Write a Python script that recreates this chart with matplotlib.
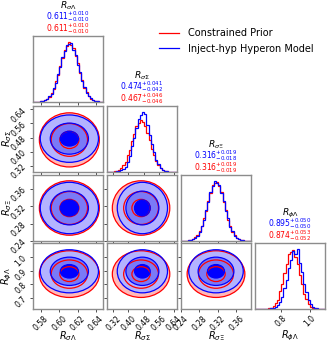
import numpy as np
import matplotlib
matplotlib.use("Agg")
import matplotlib.pyplot as plt
from matplotlib.patches import Ellipse
from matplotlib.lines import Line2D
from matplotlib.ticker import FormatStrFormatter

# ---------------- data ----------------
labels = [r"$R_{\sigma\Lambda}$", r"$R_{\sigma\Sigma}$", r"$R_{\sigma\Xi}$", r"$R_{\phi\Lambda}$"]
ranges = [(0.571, 0.648), (0.287, 0.657), (0.240, 0.392), (0.615, 1.105)]

# medians and 1-sigma (from titles)
blue_med = [0.611, 0.474, 0.316, 0.895]
blue_up = [0.010, 0.041, 0.019, 0.050]
blue_lo = [0.010, 0.042, 0.018, 0.050]
red_med = [0.611, 0.467, 0.316, 0.874]
red_up = [0.010, 0.046, 0.019, 0.053]
red_lo = [0.010, 0.046, 0.019, 0.052]

# contour sizes (in units of sigma)
blue_levels = [1.0, 2.1, 3.2]
red_levels = [1.05, 2.0, 3.3]

# histogram heights (32 bins across each panel range)
blue_hist = [
    [0,0,0,1,1,3,5,10,14,24,33,48,60,77,86,97,99,101,88,80,63,51,36,26,16,10,6,3,2,1,0,0],
    [0,0,0,0,1,1,3,5,9,17,27,44,57,74,88,95,100,97,79,62,46,34,20,13,6,4,2,1,0,0,0,0],
    [0,0,0,1,1,3,5,9,15,26,36,52,66,82,92,101,98,94,80,68,50,38,24,16,9,5,3,1,1,0,0,0],
    [0,0,0,0,0,0,0,1,1,3,6,12,20,35,50,70,84,99,94,102,78,63,43,29,15,9,4,2,1,0,0,0],
]
red_hist = [
    [0,0,0,1,2,3,5,9,15,22,35,46,62,74,89,95,102,97,91,78,66,49,38,24,17,11,5,3,1,1,0,0],
    [0,0,0,1,2,3,6,11,17,28,37,52,63,76,82,87,83,77,65,54,39,29,18,12,7,4,2,1,0,0,0,0],
    [0,0,0,1,2,3,6,10,16,25,38,50,68,80,94,97,100,92,82,66,52,36,26,15,10,5,3,2,1,0,0,0],
    [0,0,0,0,0,0,1,2,5,11,16,30,43,62,77,94,97,101,88,76,57,42,25,17,8,4,2,1,0,0,0,0],
]

x_ticks = [[0.58, 0.60, 0.62, 0.64], [0.32, 0.40, 0.48, 0.56, 0.64],
           [0.24, 0.28, 0.32, 0.36], [0.8, 1.0]]
y_ticks = [[0.58, 0.60, 0.62, 0.64], [0.32, 0.40, 0.48, 0.56, 0.64],
           [0.24, 0.28, 0.32, 0.36], [0.7, 0.8, 0.9, 1.0]]
tick_fmt = ["%.2f", "%.2f", "%.2f", "%.1f"]

legend_labels = ["Constrained Prior", "Inject-hyp Hyperon Model"]

# ---------------- style ----------------
BLUE = "#0000ff"
RED = "#ff0000"
blue_fills = ["#b3b3ff", "#7a7af7", BLUE]
red_fill = "#ffb8b8"
SPINE = "#8c8c8c"

W, H = 328, 353
fig = plt.figure(figsize=(W / 100, H / 100), dpi=100)

lefts = [33, 107, 181, 255]
tops = [36, 106, 175, 243]
aw, ah = 70, 66

n = 4
axes = {}
for r in range(n):
    for c in range(r + 1):
        ax = fig.add_axes([lefts[c] / W, 1 - (tops[r] + ah) / H, aw / W, ah / H])
        axes[(r, c)] = ax
        for s in ax.spines.values():
            s.set_color(SPINE)
            s.set_linewidth(1.0)
        ax.tick_params(colors="#333333", labelsize=5.5, length=2.5, width=0.6,
                       labelcolor="black", pad=1)

for i in range(n):
    ax = axes[(i, i)]
    lo, hi = ranges[i]
    edges = np.linspace(lo, hi, len(blue_hist[i]) + 1)
    rh = np.asarray(red_hist[i], float)
    bh = np.asarray(blue_hist[i], float)
    ax.stairs(rh, edges, color=RED, lw=0.9)
    ax.stairs(bh, edges, color=BLUE, lw=0.9)
    ax.set_xlim(lo, hi)
    ax.set_ylim(0, 1.1 * max(rh.max(), bh.max()))
    ax.set_yticks([])
    ax.set_xticks(x_ticks[i])
    ax.xaxis.set_major_formatter(FormatStrFormatter(tick_fmt[i]))
    if i < n - 1:
        ax.set_xticklabels([])
    # titles
    ax.text(0.5, 1 + 30 / ah, labels[i], transform=ax.transAxes, ha="center",
            va="center", fontsize=6.6)
    ax.text(0.5, 1 + 19.5 / ah,
            r"$%.3f^{+%.3f}_{-%.3f}$" % (blue_med[i], blue_up[i], blue_lo[i]),
            transform=ax.transAxes, ha="center", va="center", fontsize=5.5, color=BLUE)
    ax.text(0.5, 1 + 7.5 / ah,
            r"$%.3f^{+%.3f}_{-%.3f}$" % (red_med[i], red_up[i], red_lo[i]),
            transform=ax.transAxes, ha="center", va="center", fontsize=5.5, color=RED)


def sig(up, lo):
    return 0.5 * (up + lo)


for r in range(1, n):
    for c in range(r):
        ax = axes[(r, c)]
        bsx, bsy = sig(blue_up[c], blue_lo[c]), sig(blue_up[r], blue_lo[r])
        rsx, rsy = sig(red_up[c], red_lo[c]), sig(red_up[r], red_lo[r])
        # red outer fill
        k = red_levels[-1]
        ax.add_patch(Ellipse((red_med[c], red_med[r]), 2 * k * rsx, 2 * k * rsy,
                             facecolor=red_fill, edgecolor="none", zorder=1))
        # blue fills
        for j, k in enumerate(blue_levels[::-1]):
            ax.add_patch(Ellipse((blue_med[c], blue_med[r]), 2 * k * bsx, 2 * k * bsy,
                                 facecolor=blue_fills[j], edgecolor="none", zorder=2 + j))
        for k in red_levels:
            ax.add_patch(Ellipse((red_med[c], red_med[r]), 2 * k * rsx, 2 * k * rsy,
                                 facecolor="none", edgecolor=RED, lw=0.9, zorder=6))
        for k in blue_levels:
            ax.add_patch(Ellipse((blue_med[c], blue_med[r]), 2 * k * bsx, 2 * k * bsy,
                                 facecolor="none", edgecolor=BLUE, lw=0.9, zorder=7))
        ax.set_xlim(*ranges[c])
        ax.set_ylim(*ranges[r])
        ax.set_xticks(x_ticks[c])
        ax.set_yticks(y_ticks[r])
        ax.xaxis.set_major_formatter(FormatStrFormatter(tick_fmt[c]))
        ax.yaxis.set_major_formatter(FormatStrFormatter(tick_fmt[r]))
        if r < n - 1:
            ax.set_xticklabels([])
        if c > 0:
            ax.set_yticklabels([])

# rotate tick labels and axis labels
for c in range(n):
    ax = axes[(n - 1, c)]
    for lab in ax.get_xticklabels():
        lab.set_rotation(45)
    ax.set_xlabel(labels[c], fontsize=7)
    ax.xaxis.set_label_coords(0.5, -0.3)
for r in range(1, n):
    ax = axes[(r, 0)]
    for lab in ax.get_yticklabels():
        lab.set_rotation(45)
    ax.set_ylabel(labels[r], fontsize=7)
    ax.yaxis.set_label_coords(-0.27, 0.5)

handles = [Line2D([], [], color=RED, lw=0.9), Line2D([], [], color=BLUE, lw=0.9)]
fig.legend(handles, legend_labels, loc="upper left",
           bbox_to_anchor=(159 / W, 1 - 28 / H), frameon=False, fontsize=7,
           handlelength=2.1, handletextpad=0.9, labelspacing=0.6,
           borderpad=0, borderaxespad=0)

fig.savefig("out.png", dpi=100)
